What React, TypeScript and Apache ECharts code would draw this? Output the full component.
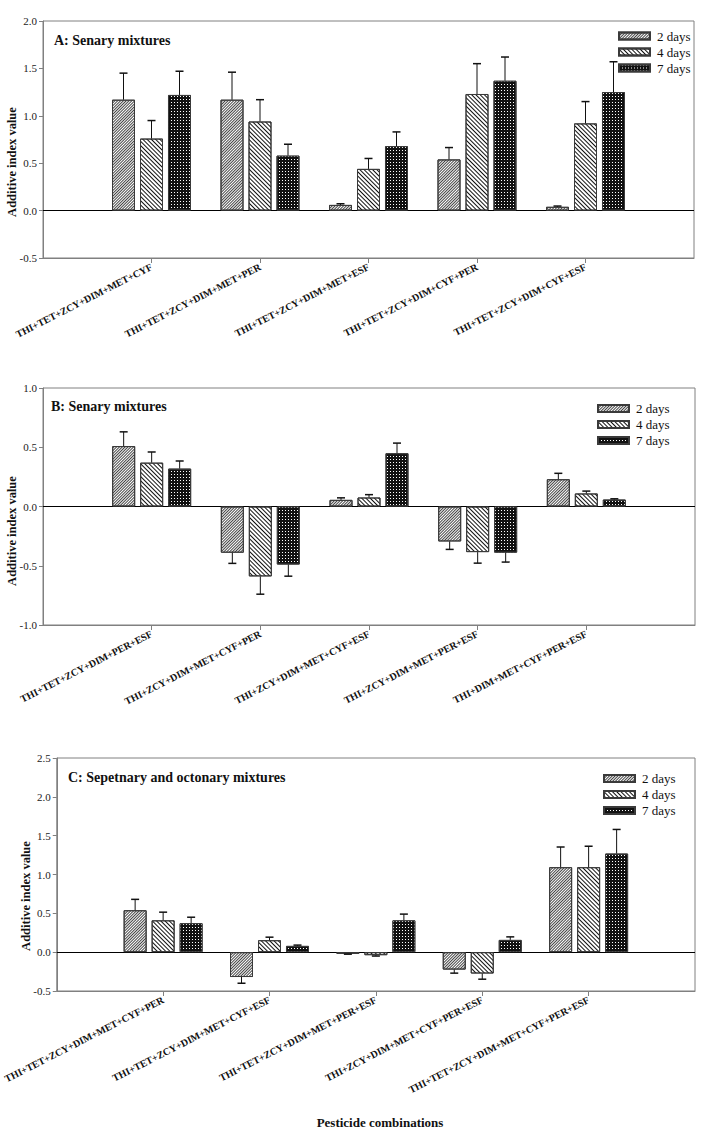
import React, { useEffect, useRef } from "react";
import * as echarts from "echarts";

const SERIES_NAMES = ["2 days", "4 days", "7 days"];

const categoriesA = [
  "THI+TET+ZCY+DIM+MET+CYF",
  "THI+TET+ZCY+DIM+MET+PER",
  "THI+TET+ZCY+DIM+MET+ESF",
  "THI+TET+ZCY+DIM+CYF+PER",
  "THI+TET+ZCY+DIM+CYF+ESF",
];
const a2 = [1.17, 1.17, 0.06, 0.54, 0.04];
const a2se = [0.28, 0.29, 0.012, 0.125, 0.008];
const a4 = [0.76, 0.94, 0.44, 1.23, 0.92];
const a4se = [0.19, 0.23, 0.11, 0.32, 0.23];
const a7 = [1.22, 0.58, 0.68, 1.37, 1.25];
const a7se = [0.25, 0.12, 0.15, 0.25, 0.32];

const categoriesB = [
  "THI+TET+ZCY+DIM+PER+ESF",
  "THI+ZCY+DIM+MET+CYF+PER",
  "THI+ZCY+DIM+MET+CYF+ESF",
  "THI+ZCY+DIM+MET+PER+ESF",
  "THI+DIM+MET+CYF+PER+ESF",
];
const b2 = [0.51, -0.39, 0.056, -0.295, 0.23];
const b2se = [0.12, 0.09, 0.017, 0.067, 0.05];
const b4 = [0.37, -0.59, 0.076, -0.385, 0.11];
const b4se = [0.09, 0.15, 0.024, 0.093, 0.02];
const b7 = [0.32, -0.49, 0.45, -0.39, 0.059];
const b7se = [0.064, 0.098, 0.085, 0.079, 0.006];

const categoriesC = [
  "THI+TET+ZCY+DIM+MET+CYF+PER",
  "THI+TET+ZCY+DIM+MET+CYF+ESF",
  "THI+TET+ZCY+DIM+MET+PER+ESF",
  "THI+ZCY+DIM+MET+CYF+PER+ESF",
  "THI+TET+ZCY+DIM+MET+CYF+PER+ESF",
];
const c2 = [0.54, -0.32, -0.022, -0.224, 1.094];
const c2se = [0.14, 0.08, 0.004, 0.046, 0.26];
const c4 = [0.41, 0.154, -0.039, -0.275, 1.094];
const c4se = [0.105, 0.039, 0.011, 0.073, 0.27];
const c7 = [0.373, 0.081, 0.41, 0.158, 1.27];
const c7se = [0.077, 0.01, 0.08, 0.039, 0.31];

const yRangeA = { min: -0.5, max: 2.0 };
const yRangeB = { min: -1.0, max: 1.0 };
const yRangeC = { min: -0.5, max: 2.5 };
const Y_INTERVAL = 0.5;

const panelTitles = [
  "A: Senary mixtures",
  "B: Senary mixtures",
  "C: Sepetnary and octonary mixtures",
];
const yAxisTitle = "Additive index value";
const xAxisTitle = "Pesticide combinations";

const FONT = "'Liberation Serif', 'Times New Roman', serif";
const BAR_W = 23;
const BAR_GAP = 5;
const CAP = 8;
const FRAME = "#808080";

const decals: any[] = [
  {
    symbol: "rect",
    symbolSize: 1,
    color: "#444444",
    dashArrayX: [1, 0],
    dashArrayY: [1, 1],
    rotation: -Math.PI / 4,
  },
  {
    symbol: "rect",
    symbolSize: 1,
    color: "#111",
    dashArrayX: [1, 0],
    dashArrayY: [1, 2],
    rotation: Math.PI / 4,
  },
  {
    symbol: "rect",
    symbolSize: 1,
    color: "#ffffff",
    dashArrayX: [1, 2],
    dashArrayY: [1, 2],
    rotation: 0,
  },
];
const baseColors = ["#ffffff", "#ffffff", "#111111"];

function App() {
  const ref = useRef<HTMLDivElement>(null);

  useEffect(() => {
    if (!ref.current) return;
    const chart = echarts.init(ref.current, undefined, { renderer: "svg" });

    const panels = [
      { cats: categoriesA, vals: [a2, a4, a7], ses: [a2se, a4se, a7se], range: yRangeA },
      { cats: categoriesB, vals: [b2, b4, b7], ses: [b2se, b4se, b7se], range: yRangeB },
      { cats: categoriesC, vals: [c2, c4, c7], ses: [c2se, c4se, c7se], range: yRangeC },
    ];
    const gridPos = [
      { left: 43, top: 21, right: 26, height: 237 },
      { left: 43, top: 388, right: 25, height: 237 },
      { left: 54, top: 758, right: 25, height: 233 },
    ];
    const legendPos = [
      { left: 618, top: 29.5 },
      { left: 597, top: 402 },
      { left: 603, top: 772 },
    ];
    const titlePos = [
      { left: 54, top: 33 },
      { left: 51, top: 399 },
      { left: 68, top: 770 },
    ];
    const yTitlePos = [
      { x: 12, y: 162 },
      { x: 12, y: 531 },
      { x: 26, y: 896 },
    ];

    const grid: any[] = [];
    const xAxis: any[] = [];
    const yAxis: any[] = [];
    const series: any[] = [];

    panels.forEach((p, pi) => {
      grid.push({
        ...gridPos[pi],
        show: true,
        borderColor: FRAME,
        borderWidth: 1,
        backgroundColor: "transparent",
        containLabel: false,
      });
      xAxis.push({
        type: "category",
        gridIndex: pi,
        data: ["", ...p.cats, ""],
        boundaryGap: false,
        axisLine: { show: true, onZero: false, lineStyle: { color: FRAME, width: 1 } },
        axisTick: {
          show: true,
          length: 5,
          inside: false,
          interval: (idx: number) => idx > 0 && idx < p.cats.length + 1,
          lineStyle: { color: FRAME },
        },
        splitLine: { show: false },
        axisLabel: {
          interval: 0,
          rotate: 27,
          margin: 8,
          fontFamily: FONT,
          fontWeight: "bold",
          fontSize: 10,
          color: "#111",
        },
      });
      yAxis.push({
        type: "value",
        gridIndex: pi,
        min: p.range.min,
        max: p.range.max,
        interval: Y_INTERVAL,
        axisLine: { show: true, lineStyle: { color: FRAME, width: 1 } },
        axisTick: { show: true, length: 4, inside: false, lineStyle: { color: FRAME } },
        splitLine: { show: false },
        axisLabel: {
          margin: 6,
          fontFamily: FONT,
          fontSize: 11,
          color: "#222",
          formatter: (v: number) => v.toFixed(1),
        },
      });

      p.vals.forEach((vals, si) => {
        const s: any = {
          type: "bar",
          name: SERIES_NAMES[si],
          xAxisIndex: pi,
          yAxisIndex: pi,
          data: [null, ...vals, null],
          barWidth: BAR_W,
          barGap: `${((BAR_GAP / BAR_W) * 100).toFixed(1)}%`,
          itemStyle: {
            color: baseColors[si],
            borderColor: "#3a3a3a",
            borderWidth: 1,
            decal: decals[si],
          },
          emphasis: { disabled: true },
          silent: true,
          z: 3,
        };
        if (si === 0) {
          s.markLine = {
            silent: true,
            symbol: "none",
            label: { show: false },
            lineStyle: { color: "#000", width: 1, type: "solid" },
            data: [{ yAxis: 0 }],
            z: 2,
          };
        }
        series.push(s);
      });

      const errData: number[][] = [];
      p.vals.forEach((vals, si) => {
        vals.forEach((v, ci) => {
          errData.push([ci + 1, v, p.ses[si][ci], si]);
        });
      });
      series.push({
        type: "custom",
        xAxisIndex: pi,
        yAxisIndex: pi,
        silent: true,
        z: 4,
        data: errData,
        renderItem: (params: any, api: any) => {
          const cat = api.value(0);
          const v = api.value(1);
          const se = api.value(2);
          const k = api.value(3);
          const end = v >= 0 ? v + se : v - se;
          const p0 = api.coord([cat, v]);
          const p1 = api.coord([cat, end]);
          const x = p0[0] + (k - 1) * (BAR_W + BAR_GAP);
          return {
            type: "group",
            children: [
              {
                type: "line",
                shape: { x1: x, y1: p0[1], x2: x, y2: p1[1] },
                style: { stroke: "#111", lineWidth: 1 },
              },
              {
                type: "line",
                shape: { x1: x - CAP / 2, y1: p1[1], x2: x + CAP / 2, y2: p1[1] },
                style: { stroke: "#111", lineWidth: 1.5 },
              },
            ],
          };
        },
      });
    });

    const legend = legendPos.map((lp) => ({
      ...lp,
      orient: "vertical",
      icon: "rect",
      itemWidth: 31,
      itemHeight: 7,
      itemGap: 3,
      padding: 0,
      selectedMode: false,
      data: SERIES_NAMES,
      textStyle: { fontFamily: FONT, fontSize: 13, color: "#111", padding: [0, 0, 0, 2] },
    }));

    const title = panelTitles.map((t, i) => ({
      text: t,
      ...titlePos[i],
      padding: 0,
      textStyle: { fontFamily: FONT, fontSize: 14, fontWeight: "bold", color: "#111" },
    }));

    const graphic: any[] = yTitlePos.map((pos) => ({
      type: "text",
      x: pos.x,
      y: pos.y,
      rotation: Math.PI / 2,
      style: {
        text: yAxisTitle,
        font: `bold 12.5px ${FONT}`,
        fill: "#111",
        textAlign: "center",
        textVerticalAlign: "middle",
      },
    }));
    graphic.push({
      type: "text",
      x: 380,
      y: 1122,
      style: {
        text: xAxisTitle,
        font: `bold 13px ${FONT}`,
        fill: "#111",
        textAlign: "center",
        textVerticalAlign: "middle",
      },
    });

    chart.setOption({
      animation: false,
      backgroundColor: "#fff",
      title,
      legend,
      grid,
      xAxis,
      yAxis,
      series,
      graphic,
    });

    return () => chart.dispose();
  }, []);

  return (
    <div
      ref={ref}
      style={{ position: "absolute", left: 0, top: 0, width: 720, height: 1139 }}
    />
  );
}

export default App;
